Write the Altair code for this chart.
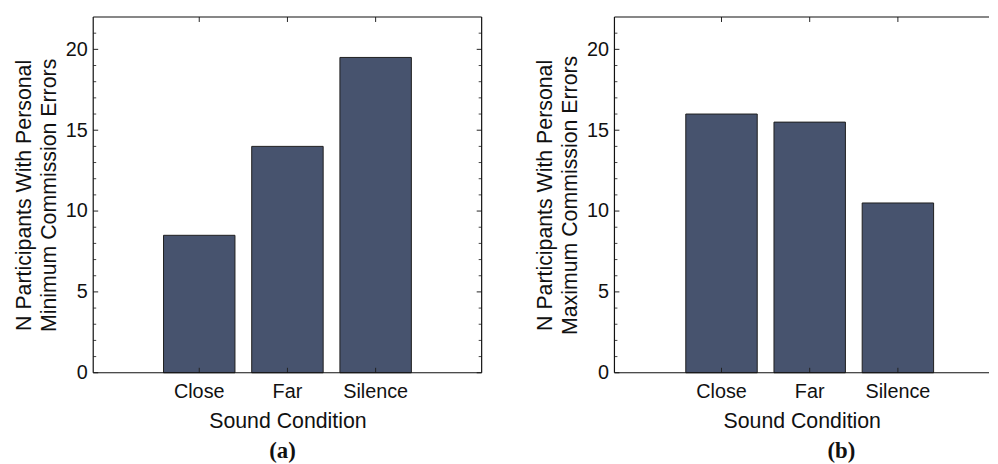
import altair as alt
import pandas as pd

categories = ["Close", "Far", "Silence"]
min_errors = [8.5, 14.0, 19.5]
max_errors = [16.0, 15.5, 10.5]
major_ticks = [0, 5, 10, 15, 20]
minor_ticks = [1, 2, 3, 4, 6, 7, 8, 9, 11, 12, 13, 14, 16, 17, 18, 19, 21]
title_a = ["N Participants With Personal", "Minimum Commission Errors"]
title_b = ["N Participants With Personal", "Maximum Commission Errors"]

BAR = "#47536e"
FONT = "Liberation Sans"
H = 359


def panel(values, ytitle, caption, width, pad_outer, align, cap_dx, right_frame):
    df = pd.DataFrame({"cond": categories, "n": values})
    xscale = alt.Scale(domain=categories, paddingInner=0.19,
                       paddingOuter=pad_outer, align=align)
    yscale = alt.Scale(domain=[0, 22], nice=False, zero=True)
    base = alt.Chart(df)
    bars = base.mark_bar(color=BAR, stroke="#1e1e1e", strokeWidth=1).encode(
        x=alt.X("cond:N", scale=xscale, sort=categories,
                axis=alt.Axis(title="Sound Condition", labelAngle=0, ticks=False,
                              domain=False, labelFontSize=20, labelFont=FONT,
                              labelColor="#111", labelPadding=9,
                              titleFont=FONT, titleFontSize=21.5, titleFontWeight="normal",
                              titleColor="#111", titlePadding=9)),
        y=alt.Y("n:Q", scale=yscale,
                axis=alt.Axis(title=ytitle, values=major_ticks, ticks=False, domain=False,
                              grid=False, labelFontSize=20, labelFont=FONT,
                              labelColor="#111", labelPadding=6,
                              titleFont=FONT, titleFontSize=21.5, titleFontWeight="normal",
                              titleColor="#111", titlePadding=5, titleLineHeight=25)),
    )
    layers = [bars]
    xt = base.mark_rule(color="#222", strokeWidth=1)
    layers.append(xt.encode(x=alt.X("cond:N", scale=xscale, sort=categories),
                            y=alt.value(0), y2=alt.value(5)))
    layers.append(xt.encode(x=alt.X("cond:N", scale=xscale, sort=categories),
                            y=alt.value(H), y2=alt.value(H - 5)))
    maj = alt.Chart(pd.DataFrame({"v": major_ticks}))
    mnr = alt.Chart(pd.DataFrame({"v": minor_ticks}))
    layers.append(maj.mark_rule(color="#222", strokeWidth=1).encode(
        y=alt.Y("v:Q", scale=yscale), x=alt.value(0), x2=alt.value(5)))
    layers.append(mnr.mark_rule(color="#444", strokeWidth=1).encode(
        y=alt.Y("v:Q", scale=yscale), x=alt.value(0), x2=alt.value(3)))
    if right_frame:
        layers.append(maj.mark_rule(color="#222", strokeWidth=1).encode(
            y=alt.Y("v:Q", scale=yscale), x=alt.value(width), x2=alt.value(width - 5)))
        layers.append(mnr.mark_rule(color="#444", strokeWidth=1).encode(
            y=alt.Y("v:Q", scale=yscale), x=alt.value(width), x2=alt.value(width - 3)))
    fr = alt.Chart(pd.DataFrame({"k": [0]})).mark_rule(color="#111", strokeWidth=1.2)
    layers.append(fr.encode(x=alt.value(0), x2=alt.value(width), y=alt.value(0)))
    layers.append(fr.encode(x=alt.value(0), x2=alt.value(width), y=alt.value(H)))
    layers.append(fr.encode(x=alt.value(0), y=alt.value(0), y2=alt.value(H)))
    if right_frame:
        layers.append(fr.encode(x=alt.value(width), y=alt.value(0), y2=alt.value(H)))
    return alt.layer(*layers).properties(
        width=width, height=H,
        title=alt.TitleParams(text=caption, orient="bottom", anchor="middle",
                              font="Liberation Serif", fontSize=23, fontWeight="bold",
                              color="#111", offset=9, dx=cap_dx),
    )


pa = panel(min_errors, title_a, "(a)", 392, 0.797, 0.5, -5, True)
pb = panel(max_errors, title_b, "(b)", 378, 0.7186, 0.5629, 40, False)

chart = alt.hconcat(pa, pb, spacing=52).properties(
    padding={"left": 5, "top": 6, "right": 0, "bottom": 0}
).configure_view(stroke=None).resolve_scale(x="independent", y="independent")

chart.save("out.html", embed_options={"renderer": "svg", "actions": False})
